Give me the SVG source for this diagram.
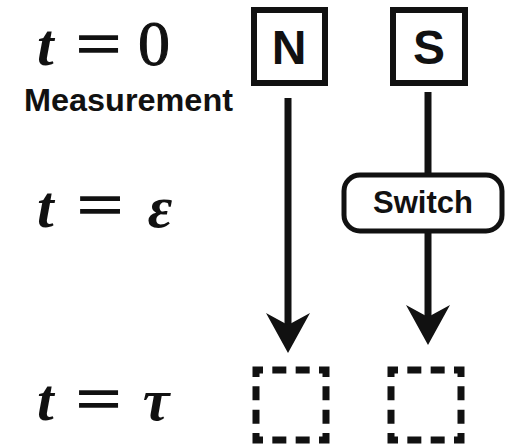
<svg xmlns="http://www.w3.org/2000/svg" width="506" height="447" viewBox="0 0 506 447">
<style>
.math{font-family:"Liberation Serif","Times New Roman",serif;font-weight:bold;font-style:italic;font-size:60px;fill:#111}
.eq{font-family:"Liberation Serif","Times New Roman",serif;font-size:64px;fill:#111;stroke:#111;stroke-width:1.5}
.lbl{font-family:"Liberation Sans",Arial,sans-serif;font-weight:bold;fill:#111}
.box{fill:#fff;stroke:#111;stroke-width:6}
.dash{fill:none;stroke:#111;stroke-width:7;stroke-dasharray:14 9.333;stroke-dashoffset:7}
.conn{stroke:#111;stroke-width:7;fill:none}
</style>
<defs>
<marker id="ah" viewBox="0 0 40 44" refX="12" refY="22" markerWidth="40" markerHeight="44" markerUnits="userSpaceOnUse" orient="auto">
<path d="M40,22 L0,0 L12,22 L0,44 Z" fill="#111"/>
</marker>
</defs>
<g id="time-labels">
<text class="math" x="37" y="65">t</text>
<text class="eq" x="76" y="65" textLength="45" lengthAdjust="spacingAndGlyphs">=</text>
<text class="eq" x="154" y="65" text-anchor="middle" style="stroke-width:1">0</text>
<text class="lbl" x="24" y="111" style="font-size:31px" textLength="209" lengthAdjust="spacingAndGlyphs">Measurement</text>
<text class="math" x="37" y="227">t</text>
<text class="eq" x="77" y="226" textLength="46" lengthAdjust="spacingAndGlyphs">=</text>
<text class="math" x="160" y="227" text-anchor="middle">ε</text>
<text class="math" x="37" y="420">t</text>
<text class="eq" x="76" y="420" textLength="45" lengthAdjust="spacingAndGlyphs">=</text>
<text class="math" x="156" y="420" text-anchor="middle">τ</text>
</g>
<g id="connectors">
<line class="conn" x1="288" y1="98" x2="288" y2="325" marker-end="url(#ah)"/>
<line class="conn" x1="428" y1="92" x2="428" y2="175"/>
<line class="conn" x1="428" y1="231" x2="428" y2="317" marker-end="url(#ah)"/>
</g>
<g id="node-N">
<rect class="box" x="254" y="10" width="71" height="73"/>
<text class="lbl" x="289" y="64" text-anchor="middle" style="font-size:48px">N</text>
</g>
<g id="node-S">
<rect class="box" x="393" y="10" width="72" height="73"/>
<text class="lbl" x="429" y="64" text-anchor="middle" style="font-size:48px">S</text>
</g>
<g id="node-switch">
<rect x="344" y="175" width="158" height="56" rx="16" fill="#fff" stroke="#111" stroke-width="5"/>
<text class="lbl" x="423" y="213" text-anchor="middle" style="font-size:31px">Switch</text>
</g>
<g id="node-N-tau">
<rect class="dash" x="256" y="370" width="70" height="70"/>
</g>
<g id="node-S-tau">
<rect class="dash" x="391" y="370" width="70" height="70"/>
</g>
</svg>
